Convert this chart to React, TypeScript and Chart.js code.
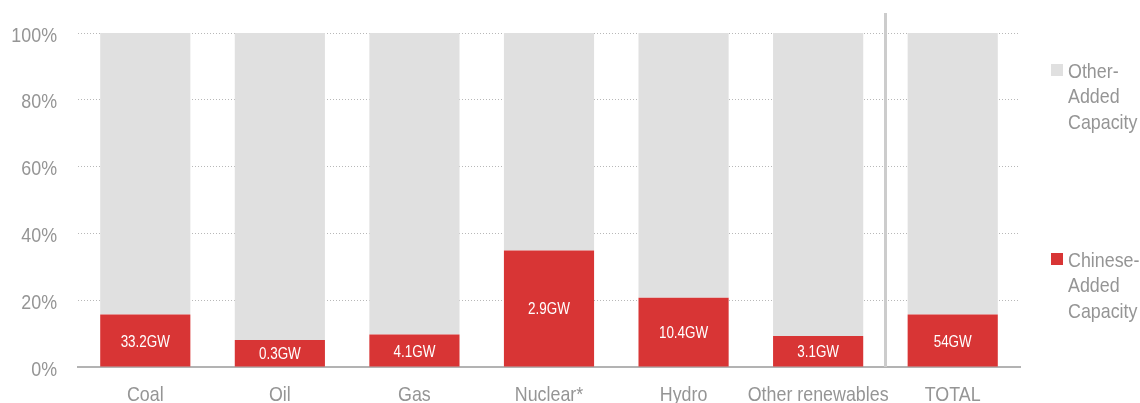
import React, { useEffect, useRef } from 'react';
import { Chart, registerables } from 'chart.js';

Chart.register(...registerables);

const categories = ['Coal', 'Oil', 'Gas', 'Nuclear*', 'Hydro', 'Other renewables', 'TOTAL'];
const chineseShare = [15.7, 8.1, 9.7, 34.9, 20.7, 9.3, 15.7];
const otherShare = [84.3, 91.9, 90.3, 65.1, 79.3, 90.7, 84.3];
const capacityLabels = ['33.2GW', '0.3GW', '4.1GW', '2.9GW', '10.4GW', '3.1GW', '54GW'];
const yTicks = [0, 20, 40, 60, 80, 100];
const otherLegend = ['Other-', 'Added', 'Capacity'];
const chineseLegend = ['Chinese-', 'Added', 'Capacity'];

const FONT = "'Liberation Sans', Arial, sans-serif";
const TEXT = '#959595';
const RED = '#d83535';
const GREY = '#e0e0e0';
const NARROW = 0.85;

function narrowText(ctx: any, text: string, x: number, y: number, align: string, size: number, color: string, squeeze = NARROW) {
  ctx.save();
  ctx.font = `${size}px ${FONT}`;
  ctx.fillStyle = color;
  ctx.textAlign = align;
  ctx.textBaseline = 'alphabetic';
  ctx.translate(x, y);
  ctx.scale(squeeze, 1);
  ctx.fillText(text, 0, 0);
  ctx.restore();
}

const overlayPlugin = {
  id: 'overlay',
  afterDatasetsDraw(chart: any) {
    const ctx = chart.ctx;
    const area = chart.chartArea;
    const x = chart.scales.x;
    const y = chart.scales.y;
    ctx.save();
    // separator before TOTAL
    const sepX = (x.getPixelForTick(5) + x.getPixelForTick(6)) / 2;
    ctx.fillStyle = '#cccccc';
    ctx.fillRect(Math.round(sepX) - 1, area.top - 20, 3, area.bottom - area.top + 20);

    // labels inside red bars
    const meta = chart.getDatasetMeta(0);
    meta.data.forEach((bar: any, i: number) => {
      const cy = (bar.y + bar.base) / 2;
      narrowText(ctx, capacityLabels[i], bar.x, cy + 6, 'center', 16, '#ffffff', 0.84);
    });

    // y tick labels
    yTicks.forEach((v) => {
      narrowText(ctx, `${v}%`, area.left - 21, y.getPixelForValue(v) + 8.5, 'right', 21, TEXT);
    });

    // x tick labels
    categories.forEach((c, i) => {
      narrowText(ctx, c, x.getPixelForTick(i), area.bottom + 33.5, 'center', 21, TEXT);
    });

    // legend
    const drawEntry = (lines: string[], color: string, yCenter: number) => {
      const lx = area.right + 31;
      ctx.fillStyle = color;
      ctx.fillRect(lx, yCenter - 6, 12, 12);
      lines.forEach((t, k) => narrowText(ctx, t, lx + 17, yCenter + 7.5 + k * 25.5, 'left', 21, TEXT));
    };
    drawEntry(otherLegend, GREY, 70);
    drawEntry(chineseLegend, RED, 259);
    ctx.restore();
  },
};

export default function App() {
  const ref = useRef<HTMLCanvasElement>(null);
  useEffect(() => {
    document.body.style.margin = '0';
    const chart = new Chart(ref.current!, {
      type: 'bar',
      data: {
        labels: categories,
        datasets: [
          {
            label: 'Chinese-Added Capacity',
            data: chineseShare,
            backgroundColor: RED,
            barPercentage: 1,
            categoryPercentage: 0.67,
          },
          {
            label: 'Other-Added Capacity',
            data: otherShare,
            backgroundColor: GREY,
            barPercentage: 1,
            categoryPercentage: 0.67,
          },
        ],
      },
      options: {
        animation: false,
        responsive: false,
        maintainAspectRatio: false,
        layout: { padding: { top: 33, right: 120, left: 0, bottom: 0 } },
        plugins: {
          legend: { display: false },
          tooltip: { enabled: false },
        },
        scales: {
          x: {
            stacked: true,
            grid: { display: false },
            border: { display: true, color: '#b3b3b3', width: 2 },
            ticks: { display: false, autoSkip: false },
            afterFit(scale: any) {
              scale.height = 36;
            },
          },
          y: {
            stacked: true,
            min: 0,
            max: 100,
            afterBuildTicks(scale: any) {
              scale.ticks = yTicks.map((v) => ({ value: v }));
            },
            grid: { color: '#b8b8b8', lineWidth: 1, drawTicks: false },
            border: { display: false, dash: [1, 2] },
            ticks: { display: false },
            afterFit(scale: any) {
              scale.width = 78;
            },
          },
        },
      },
      plugins: [overlayPlugin],
    });
    return () => chart.destroy();
  }, []);
  return (
    <div style={{ width: 1140, height: 403 }}>
      <canvas ref={ref} width={1140} height={403} style={{ display: 'block' }} />
    </div>
  );
}
